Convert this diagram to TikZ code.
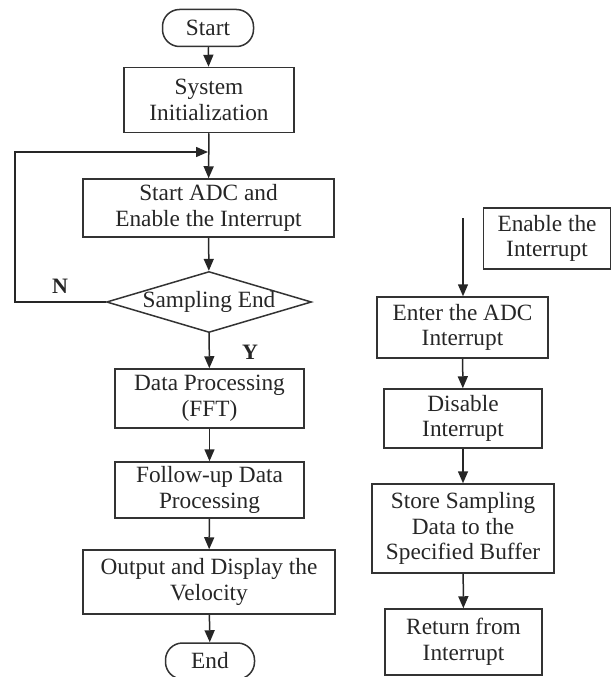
\documentclass[tikz,border=0pt]{standalone}
\usepackage{fontspec}
\setmainfont{Liberation Serif}
\usetikzlibrary{shapes.geometric,arrows.meta}
\begin{document}
\begin{tikzpicture}[x=1pt,y=-1pt,
  every node/.style={font=\fontsize{23.3}{25.5}\selectfont, text=black!85},
  box/.style={draw=black!80, line width=1.5pt, align=center, inner sep=0pt},
  term/.style={box, rounded corners=17pt},
  dec/.style={draw=black!80, line width=1.5pt, diamond, shape aspect=3.36, inner sep=0pt, minimum width=205pt, minimum height=61pt},
  arr/.style={draw=black!85, line width=1.5pt, -{Triangle[length=12pt,width=10pt]}},
  lbl/.style={font=\fontsize{22}{25}\selectfont\bfseries}
]
\path[use as bounding box] (0,0) rectangle (613,677);

% left flow
\node[term, minimum width=91pt, minimum height=37pt] (start) at (208,28) {Start};
\node[box, minimum width=170pt, minimum height=65pt] (init) at (209,100) {System\\Initialization};
\node[box, minimum width=251pt, minimum height=58pt] (adc) at (208.5,208) {Start ADC and\\Enable the Interrupt};
\node[dec] (samp) at (209,302) {Sampling End};
\node[box, minimum width=189pt, minimum height=59pt] (fft) at (209.5,398.5) {Data Processing\\(FFT)};
\node[box, minimum width=189pt, minimum height=56pt] (follow) at (209.5,490) {Follow-up Data\\Processing};
\node[box, minimum width=252pt, minimum height=64pt] (out) at (209,582) {Output and Display the\\Velocity};
\node[term, minimum width=89pt, minimum height=36pt] (end) at (210,661) {End};

\coordinate (join) at (208,152);
\coordinate (loopL) at (15,302);

\draw[arr] (start) -- (init);
\draw[arr] (init) -- (adc);
\draw[arr] (adc) -- (samp);
\draw[arr] (samp) -- (fft);
\draw[arr] (fft) -- (follow);
\draw[arr] (follow) -- (out);
\draw[arr] (out) -- (end);
\draw[arr] (samp.west) -- (loopL) |- (join);

\node[lbl] (nlab) at (60,286) {N};
\node[lbl] (ylab) at (250,352) {Y};

% right flow
\node[box, minimum width=127pt, minimum height=61pt] (en) at (547,238.5) {Enable the\\Interrupt};
\node[box, minimum width=171pt, minimum height=61pt] (enter) at (462.5,327.5) {Enter the ADC\\Interrupt};
\node[box, minimum width=158pt, minimum height=59pt] (dis) at (463,418.5) {Disable\\Interrupt};
\node[box, minimum width=182pt, minimum height=89pt] (store) at (463,528.5) {Store Sampling\\Data to the\\Specified Buffer};
\node[box, minimum width=157pt, minimum height=66pt] (ret) at (463.5,642) {Return from\\Interrupt};

\coordinate (free) at (463,218);
\draw[arr] (free) -- (enter.north -| free);
\draw[arr] (enter) -- (dis);
\draw[arr] (dis) -- (store);
\draw[arr] (store) -- (ret);
\end{tikzpicture}
\end{document}
